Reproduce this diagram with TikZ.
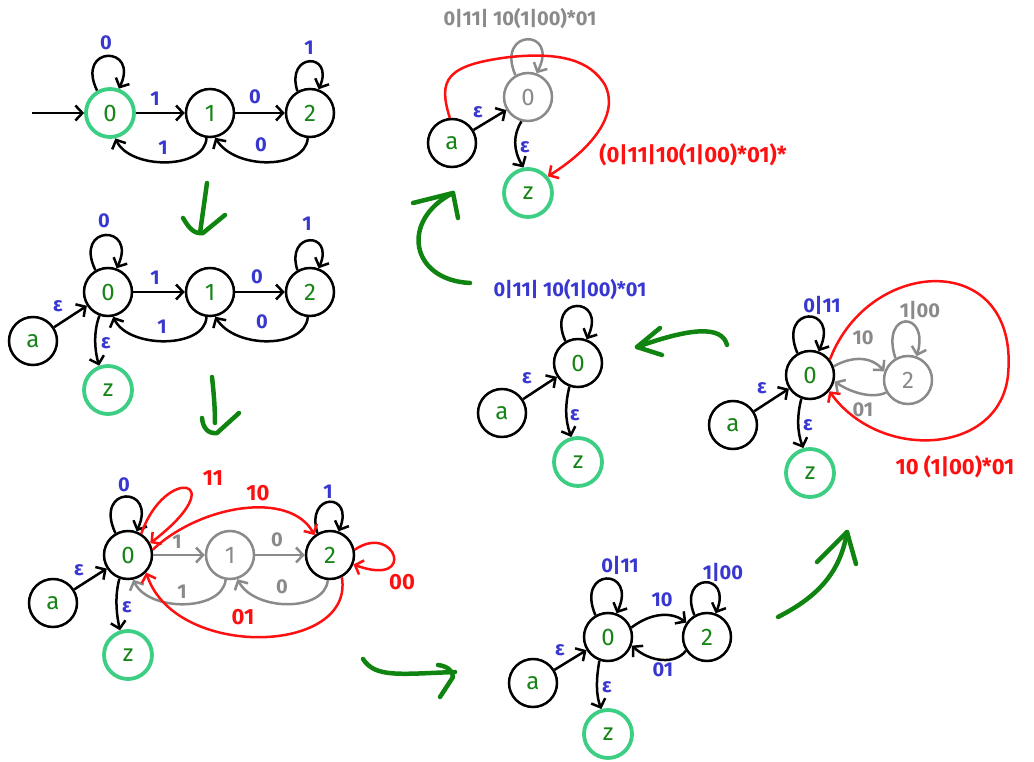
\documentclass[tikz,border=0pt]{standalone}
\usepackage{fontspec}
\setmainfont{Fira Sans}
\usepackage{tikz}
\usetikzlibrary{arrows.meta}

\definecolor{stgreen}{RGB}{22,132,22}
\definecolor{accgreen}{RGB}{60,206,130}
\definecolor{arrgreen}{RGB}{16,132,16}
\definecolor{bluec}{RGB}{56,56,208}
\definecolor{grayc}{RGB}{138,138,138}
\definecolor{redc}{RGB}{255,16,16}

\tikzset{
  st/.style={circle, draw, line width=2.5pt, minimum size=48pt, inner sep=0pt, text=stgreen, font=\fontsize{24}{24}\selectfont},
  acc/.style={st, draw=accgreen, line width=3.8pt},
  gst/.style={st, draw=grayc, text=grayc},
  trans/.style={line width=2.5pt, -{Straight Barb[length=7pt,width=15pt]}},
  gtrans/.style={trans, draw=grayc},
  rtrans/.style={trans, draw=redc},
  lbl/.style={text=bluec, font=\fontsize{20}{20}\selectfont\bfseries, inner sep=0pt},
  glbl/.style={lbl, text=grayc},
  rlbl/.style={lbl, text=redc, font=\fontsize{22}{22}\selectfont\bfseries},
  bigarrow/.style={draw=arrgreen, line width=4.5pt, line cap=round, line join=round},
}

\begin{document}
\begin{tikzpicture}[x=1pt,y=1pt,yscale=-1]
\useasboundingbox (0,0) rectangle (1034,762);

%% --- step 1: original automaton
\node[acc] (p1q0) at (110,113) {0};
\node[st] (p1q1) at (210,113) {1};
\node[st] (p1q2) at (310,113) {2};
\coordinate (p1in) at (32,113);
\draw[trans] (p1in) -- (p1q0);
\draw[trans] (p1q0.120) .. controls (75,45) and (140,45) .. (p1q0.70);
\draw[trans] (p1q2.120) .. controls (285,52) and (335,52) .. (p1q2.70);
\draw[trans] (p1q0) -- (p1q1);
\draw[trans] (p1q1) -- (p1q2);
\draw[trans] (p1q1.262) .. controls (205,170) and (130,170) .. (p1q0.282);
\draw[trans] (p1q2.265) .. controls (305,170) and (235,170) .. (p1q1.282);
% Text Node
\node[lbl] (p1l1) at (106,43) {0};
\node[lbl] (p1l2) at (309,48) {1};
\node[lbl] (p1l3) at (155,99) {1};
\node[lbl] (p1l4) at (255,97) {0};
\node[lbl] (p1l5) at (163,148) {1};
\node[lbl] (p1l6) at (261,145) {0};

\draw[bigarrow] (207,183) -- (200,233);
\draw[bigarrow] (183,218) .. controls (190,230) and (195,234) .. (203,233) -- (225,215);

%% --- step 2: new start a and end z
\node[st] (p2q0) at (108,292) {0};
\node[st] (p2q1) at (210,292) {1};
\node[st] (p2q2) at (310,292) {2};
\node[st] (p2a) at (33,341) {a};
\node[acc] (p2z) at (108,390) {z};
\draw[trans] (p2q0.120) .. controls (73,224) and (138,224) .. (p2q0.70);
\draw[trans] (p2q2.120) .. controls (285,231) and (335,231) .. (p2q2.70);
\draw[trans] (p2q0) -- (p2q1);
\draw[trans] (p2q1) -- (p2q2);
\draw[trans] (p2q1.262) .. controls (205,349) and (128,349) .. (p2q0.282);
\draw[trans] (p2q2.265) .. controls (305,349) and (235,349) .. (p2q1.282);
\draw[trans] (p2a) -- (p2q0);
\draw[trans] (p2q0.250) .. controls (94,330) and (94,348) .. (p2z.110);
% Text Node
\node[lbl] (p2l1) at (104,221) {0};
\node[lbl] (p2l2) at (307,224) {1};
\node[lbl] (p2l3) at (155,278) {1};
\node[lbl] (p2l4) at (257,277) {0};
\node[lbl] (p2l5) at (162,327) {1};
\node[lbl] (p2l6) at (262,322) {0};
\node[lbl] (p2l7) at (58,306) {ε};
\node[lbl] (p2l8) at (106,343) {ε};

\draw[bigarrow] (212,377) .. controls (214,395) and (215,410) .. (215,423);
\draw[bigarrow] (202,418) .. controls (203,428) and (208,434) .. (217,433) -- (239,413);

%% --- step 3: remove state 1
\node[st] (p3q0) at (128,555) {0};
\node[gst] (p3q1) at (230,555) {1};
\node[st] (p3q2) at (330,555) {2};
\node[st] (p3a) at (53,603) {a};
\node[acc] (p3z) at (128,655) {z};
\draw[trans] (p3q0.120) .. controls (93,485) and (158,485) .. (p3q0.70);
\draw[trans] (p3q2.120) .. controls (305,492) and (355,492) .. (p3q2.70);
\draw[gtrans] (p3q0) -- (p3q1);
\draw[gtrans] (p3q1) -- (p3q2);
\draw[gtrans] (p3q1.260) .. controls (222,612) and (148,612) .. (p3q0.282);
\draw[gtrans] (p3q2.265) .. controls (325,612) and (255,612) .. (p3q1.287);
\draw[trans] (p3a) -- (p3q0);
\draw[trans] (p3q0.250) .. controls (115,595) and (116,612) .. (p3z.108);
\draw[rtrans] (p3q0.58) .. controls (165,465) and (235,478) .. (p3q0.28);
\draw[rtrans] (p3q0.12) .. controls (200,505) and (290,490) .. (p3q2.128);
\draw[rtrans] (p3q2.12) .. controls (395,522) and (418,588) .. (p3q2.-22);
\draw[rtrans] (p3q2.-62) .. controls (355,655) and (175,660) .. (p3q0.-44);
% Text Node
\node[lbl] (p3l1) at (124,485) {0};
\node[lbl] (p3l2) at (328,492) {1};
\node[lbl] (p3l3) at (79,570) {ε};
\node[lbl] (p3l4) at (127,607) {ε};
\node[glbl] (p3l5) at (177,542) {1};
\node[glbl] (p3l6) at (277,540) {0};
\node[glbl] (p3l7) at (182,592) {1};
\node[glbl] (p3l8) at (282,587) {0};
\node[rlbl] (p3l9) at (213,478) {11};
\node[rlbl] (p3l10) at (258,493) {10};
\node[rlbl] (p3l11) at (402,582) {00};
\node[rlbl] (p3l12) at (243,617) {01};

\draw[bigarrow] (363,659) .. controls (375,678) and (400,674) .. (455,672);
\draw[bigarrow] (438,665) .. controls (446,666) and (453,670) .. (453,677) -- (440,697);

%% --- step 4: two states left
\node[st] (p4q0) at (608,637) {0};
\node[st] (p4q2) at (707,637) {2};
\node[st] (p4a) at (533,683) {a};
\node[acc] (p4z) at (608,734) {z};
\draw[trans] (p4q0.120) .. controls (575,567) and (638,567) .. (p4q0.70);
\draw[trans] (p4q2.120) .. controls (677,572) and (733,572) .. (p4q2.70);
\draw[trans] (p4q0.22) .. controls (652,612) and (672,612) .. (p4q2.145);
\draw[trans] (p4q2.213) .. controls (675,665) and (650,662) .. (p4q0.-20);
\draw[trans] (p4a) -- (p4q0);
\draw[trans] (p4q0.250) .. controls (596,680) and (596,695) .. (p4z.105);
% Text Node
\node[lbl] (p4l1) at (620,565) {0|11};
\node[lbl] (p4l2) at (723,572) {1|00};
\node[lbl] (p4l3) at (662,600) {10};
\node[lbl] (p4l4) at (663,670) {01};
\node[lbl] (p4l5) at (560,650) {ε};
\node[lbl] (p4l6) at (607,687) {ε};

\draw[bigarrow] (778,617) .. controls (815,598) and (840,575) .. (847,532);
\draw[bigarrow] (817,562) -- (847,532) -- (856,564);

%% --- step 5: remove state 2
\node[st] (p5q0) at (810,375) {0};
\node[gst] (p5q2) at (908,380) {2};
\node[st] (p5a) at (733,425) {a};
\node[acc] (p5z) at (810,473) {z};
\draw[trans] (p5q0.120) .. controls (777,305) and (840,305) .. (p5q0.70);
\draw[gtrans] (p5q2.120) .. controls (880,310) and (930,310) .. (p5q2.70);
\draw[gtrans] (p5q0.20) .. controls (850,357) and (870,355) .. (p5q2.160);
\draw[gtrans] (p5q2.210) .. controls (875,398) and (855,395) .. (p5q0.-15);
\draw[trans] (p5a) -- (p5q0);
\draw[trans] (p5q0.250) .. controls (797,415) and (797,432) .. (p5z.105);
\draw[rtrans] (p5q0.38) .. controls (870,255) and (1020,250) .. (1008,375) .. controls (1000,455) and (880,462) .. (p5q0.-40);
% Text Node
\node[lbl] (p5l1) at (822,305) {0|11};
\node[glbl] (p5l2) at (920,310) {1|00};
\node[glbl] (p5l3) at (863,338) {10};
\node[glbl] (p5l4) at (863,410) {01};
\node[rlbl] (p5l5) at (955,467) {10 (1|00)*01};
\node[lbl] (p5l6) at (762,388) {ε};
\node[lbl] (p5l7) at (808,425) {ε};

\draw[bigarrow] (727,345) .. controls (722,325) and (690,328) .. (637,347);
\draw[bigarrow] (660,328) -- (637,347) -- (662,355);

%% --- step 6: single loop
\node[st] (p7q0) at (578,363) {0};
\node[st] (p7a) at (502,413) {a};
\node[acc] (p7z) at (578,462) {z};
\draw[trans] (p7q0.120) .. controls (545,295) and (608,295) .. (p7q0.70);
\draw[trans] (p7a) -- (p7q0);
\draw[trans] (p7q0.250) .. controls (565,405) and (565,420) .. (p7z.105);
% Text Node
\node[lbl] (p7l1) at (570,290) {0|11| 10(1|00)*01};
\node[lbl] (p7l2) at (527,378) {ε};
\node[lbl] (p7l3) at (575,415) {ε};

\draw[bigarrow] (470,283) .. controls (410,280) and (400,220) .. (453,193);
\draw[bigarrow] (413,203) -- (453,193) -- (458,218);

%% --- step 7: final expression
\node[gst] (p6q0) at (528,97) {0};
\node[st] (p6a) at (452,143) {a};
\node[acc] (p6z) at (528,193) {z};
\draw[gtrans] (p6q0.120) .. controls (495,28) and (560,28) .. (p6q0.70);
\draw[trans] (p6a) -- (p6q0);
\draw[trans] (p6q0.255) .. controls (513,135) and (513,150) .. (p6z.100);
\draw[rtrans] (p6a.95) .. controls (438,80) and (445,65) .. (510,57) .. controls (560,52) and (590,60) .. (605,85) .. controls (620,115) and (590,150) .. (p6z.40);
% Text Node
\node[glbl] (p6l1) at (520,19) {0|11| 10(1|00)*01};
\node[rlbl] (p6l2) at (693,155) {(0|11|10(1|00)*01)*};
\node[lbl] (p6l3) at (478,112) {ε};
\node[lbl] (p6l4) at (525,147) {ε};

\end{tikzpicture}
\end{document}
